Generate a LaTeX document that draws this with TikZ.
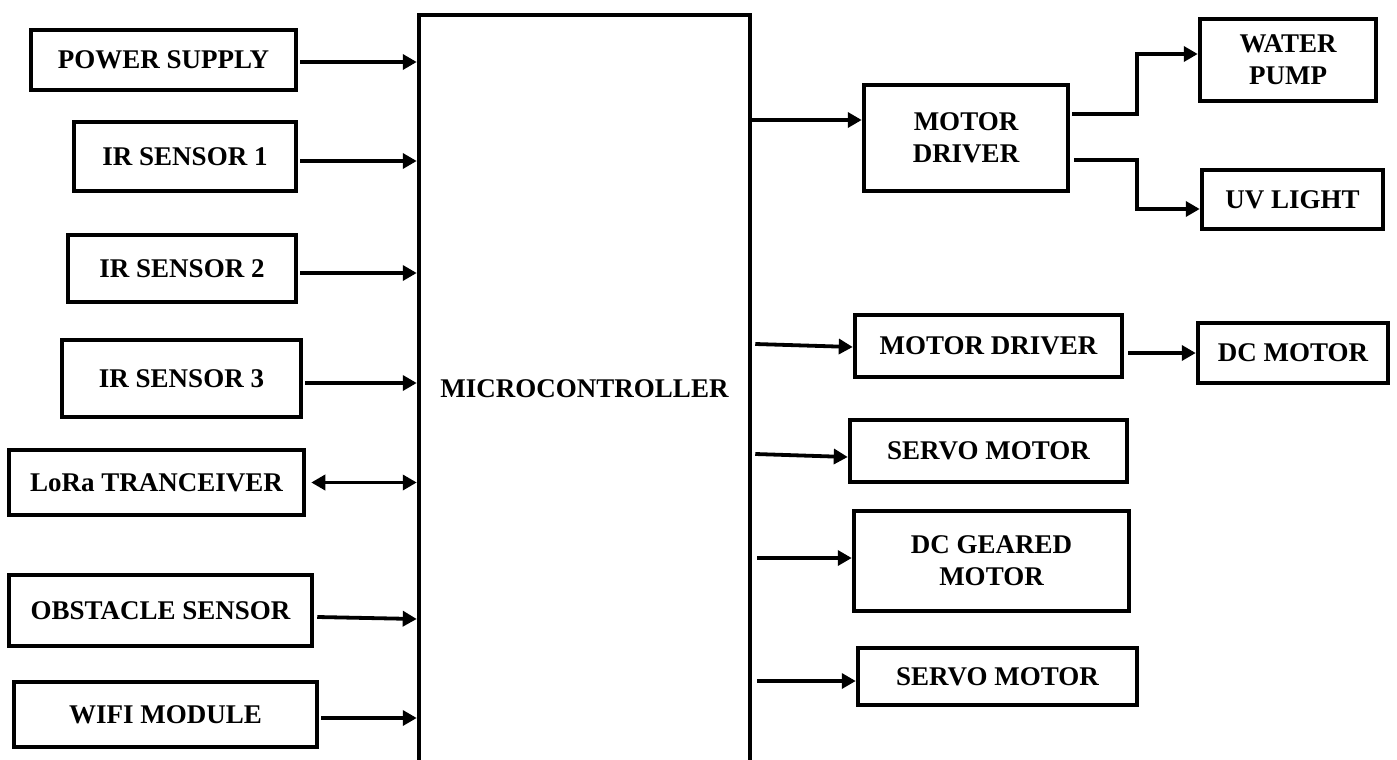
\documentclass[tikz,border=0pt]{standalone}
\usepackage{fontspec}
\setmainfont{Liberation Serif}
\usetikzlibrary{arrows.meta, positioning}

\begin{document}
\begin{tikzpicture}[x=1pt, y=-1pt,
  block/.style={draw, line width=4.5pt, inner sep=0pt, align=center, font=\fontsize{27}{32}\selectfont\bfseries},
  arrow/.style={-{Triangle[length=14pt, width=15pt]}, line width=3.8pt},
  biarrow/.style={{Triangle[length=14pt, width=15pt]}-{Triangle[length=14pt, width=15pt]}, line width=3.8pt}
]
\useasboundingbox (0,0) rectangle (1397,760);
\node[block, minimum width=331pt, minimum height=748pt] (mcu) at (584.5,389) {MICROCONTROLLER};
\node[block, minimum width=265pt, minimum height=60pt] (psu) at (163.5,60) {POWER SUPPLY};
\node[block, minimum width=222pt, minimum height=69pt] (ir1) at (185,156.5) {IR SENSOR 1};
\node[block, minimum width=228pt, minimum height=67pt] (ir2) at (182,268.5) {IR SENSOR 2};
\node[block, minimum width=239pt, minimum height=77pt] (ir3) at (181.5,378.5) {IR SENSOR 3};
\node[block, minimum width=295pt, minimum height=65pt] (lora) at (156.5,482.5) {LoRa TRANCEIVER};
\node[block, minimum width=303pt, minimum height=71pt] (obst) at (160.5,610.5) {OBSTACLE SENSOR};
\node[block, minimum width=303pt, minimum height=65pt] (wifi) at (165.5,714.5) {WIFI MODULE};
\node[block, minimum width=204pt, minimum height=106pt] (mdrv1) at (966,138) {MOTOR\\DRIVER};
\node[block, minimum width=176pt, minimum height=82pt] (pump) at (1288,60) {WATER\\PUMP};
\node[block, minimum width=181pt, minimum height=59pt] (uv) at (1292.5,199.5) {UV LIGHT};
\node[block, minimum width=267pt, minimum height=62pt] (mdrv2) at (988.5,346) {MOTOR DRIVER};
\node[block, minimum width=190pt, minimum height=60pt] (dcm) at (1293,353) {DC MOTOR};
\node[block, minimum width=277pt, minimum height=62pt] (servo1) at (988.5,451) {SERVO MOTOR};
\node[block, minimum width=275pt, minimum height=100pt] (geared) at (991.5,561) {DC GEARED\\MOTOR};
\node[block, minimum width=279pt, minimum height=57pt] (servo2) at (997.5,676.5) {SERVO MOTOR};
\foreach \n/\s in {psu/-2, ir1/-4.5, ir2/-4.5, ir3/-4.5, wifi/-3.5}
  \draw[arrow] ([yshift=\s pt, xshift=2pt]\n.east) -- ([yshift=\s pt]\n.east -| mcu.west);
\draw[biarrow] ([xshift=5pt]lora.east) -- (lora.east -| mcu.west);
\draw[arrow] ([yshift=-6.5pt, xshift=3pt]obst.east) -- ([yshift=-8.5pt]obst.east -| mcu.west);
\draw[arrow] ([yshift=18pt]mdrv1.west -| mcu.east) -- ([yshift=18pt]mdrv1.west);
\draw[arrow] ([yshift=24pt, xshift=2pt]mdrv1.east) -- ++(65,0) |- ([yshift=6pt]pump.west);
\draw[arrow] ([yshift=-22pt, xshift=4pt]mdrv1.east) -- ++(63,0) |- ([yshift=-9.5pt]uv.west);
\draw[arrow] ([yshift=2pt, xshift=3pt]mdrv2.west -| mcu.east) -- ([yshift=-1pt]mdrv2.west);
\draw[arrow] ([xshift=4pt]mdrv2.east |- dcm.west) -- (dcm.west);
\draw[arrow] ([yshift=-3pt, xshift=3pt]servo1.west -| mcu.east) -- ([yshift=-6pt]servo1.west);
\draw[arrow] ([yshift=3pt, xshift=5pt]geared.west -| mcu.east) -- ([yshift=3pt]geared.west);
\draw[arrow] ([yshift=-4.5pt, xshift=5pt]servo2.west -| mcu.east) -- ([yshift=-4.5pt]servo2.west);
\end{tikzpicture}
\end{document}
